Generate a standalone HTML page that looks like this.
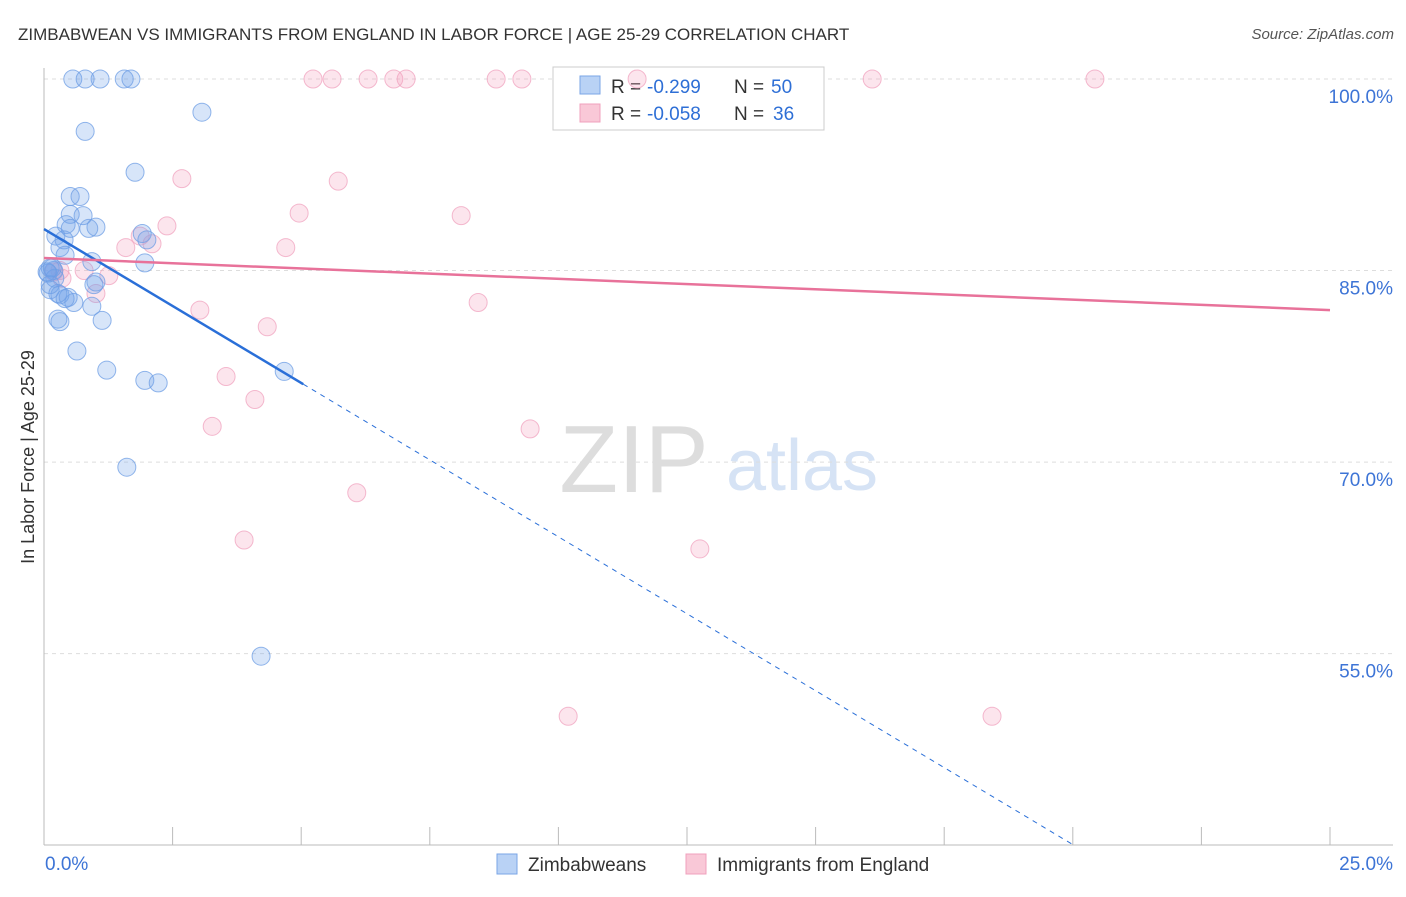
<!DOCTYPE html>
<html><head><meta charset="utf-8"><style>
body{margin:0;background:#fff;font-family:"Liberation Sans",sans-serif}
svg text{font-family:"Liberation Sans",sans-serif}
</style></head><body>
<svg id="c" width="1406" height="892">
<text x="18" y="40" font-size="17" fill="#333">ZIMBABWEAN VS IMMIGRANTS FROM ENGLAND IN LABOR FORCE | AGE 25-29 CORRELATION CHART</text>
<text x="1394" y="39" font-size="15" fill="#555" font-style="italic" text-anchor="end">Source: ZipAtlas.com</text>
<text transform="translate(34,457) rotate(-90)" font-size="18" fill="#333" text-anchor="middle">In Labor Force | Age 25-29</text>
<g><text x="634" y="492" font-size="96" fill="#ddd" text-anchor="middle" font-family="Liberation Serif">ZIP</text><text x="802" y="490" font-size="72" fill="#d6e3f5" text-anchor="middle">atlas</text></g>
<g id="grid"></g><g id="axes"></g>
<g>
<rect x="553" y="67" width="271" height="63" fill="#fff" stroke="#ccc"/>
<rect x="580" y="76" width="20" height="18" fill="#b9d2f5" stroke="#7aa5e6"/>
<rect x="580" y="104" width="20" height="18" fill="#f9c8d7" stroke="#f0a0bc"/>
<text x="611" y="93" font-size="19" fill="#333">R =</text><text x="647" y="93" font-size="19" fill="#2e6fd6">-0.299</text><text x="734" y="93" font-size="19" fill="#333">N =</text><text x="771" y="93" font-size="19" fill="#2e6fd6">50</text>
<text x="611" y="120" font-size="19" fill="#333">R =</text><text x="647" y="120" font-size="19" fill="#2e6fd6">-0.058</text><text x="734" y="120" font-size="19" fill="#333">N =</text><text x="773" y="120" font-size="19" fill="#2e6fd6">36</text>
</g>
<g id="marks"></g>
<g>
<rect x="497" y="854" width="20" height="20" fill="#b9d2f5" stroke="#7aa5e6"/><text x="528" y="871" font-size="19" fill="#333">Zimbabweans</text>
<rect x="686" y="854" width="20" height="20" fill="#f9c8d7" stroke="#f0a0bc"/><text x="717" y="871" font-size="19" fill="#333">Immigrants from England</text>
</g>
</svg>
<script>
const yTicks=[100,85,70,55];
const xTickLabels=["0.0%","25.0%"];
const blueX=[0.56,0.80,1.09,1.56,1.69,3.07,0.80,1.77,0.51,0.70,0.51,0.76,0.43,0.51,1.01,0.87,1.91,2.00,0.23,0.39,0.31,0.41,0.93,1.96,0.12,0.19,0.08,1.01,0.97,0.12,0.31,0.47,0.58,0.93,1.13,0.27,0.31,0.64,1.22,1.96,2.22,4.67,1.61,4.22,0.12,0.21,0.06,0.16,0.27,0.41];
const blueY=[100,100,100,100,100,97.4,95.9,92.7,90.8,90.8,89.4,89.3,88.6,88.3,88.4,88.3,87.9,87.4,87.7,87.4,86.8,86.2,85.7,85.6,85.2,85.0,84.8,84.1,83.9,83.5,83.1,82.9,82.5,82.2,81.1,81.2,81.0,78.7,77.2,76.4,76.2,77.1,69.6,54.8,83.9,84.4,84.9,85.2,83.2,82.8];
const pinkX=[5.23,5.60,6.30,6.80,7.04,8.79,9.29,11.53,16.10,20.43,2.68,5.72,4.96,8.11,2.39,1.87,2.10,1.59,4.70,1.26,0.78,0.31,0.19,0.35,1.01,8.44,3.03,4.34,3.54,4.10,3.27,9.45,6.08,3.89,12.75,10.19,18.43];
const pinkY=[100,100,100,100,100,100,100,100,100,100,92.2,92.0,89.5,89.3,88.5,87.7,87.1,86.8,86.8,84.6,85.0,85.0,84.9,84.4,83.2,82.5,81.9,80.6,76.7,74.9,72.8,72.6,67.6,63.9,63.2,50.1,50.1];
const blueTrend=[88.25,-2.41];
const blueSolidEnd=5.04;
const pinkTrend=[85.98,-0.163];
const X0=44,X1=1330,Y100=79,PX=12.77;
const xs=v=>X0+(X1-X0)*v/25;
const ys=v=>Y100+(100-v)*PX;
const NS="http://www.w3.org/2000/svg";
function mk(t,a,p){const e=document.createElementNS(NS,t);for(const k in a)e.setAttribute(k,a[k]);p.appendChild(e);return e;}
const grid=document.getElementById('grid'),axes=document.getElementById('axes'),marks=document.getElementById('marks');
yTicks.forEach(t=>{
 const l=mk('line',{x1:44,x2:1393,y1:ys(t),y2:ys(t),stroke:'#ddd','stroke-dasharray':'4,4'},grid);
 
 
 const tx=mk('text',{x:1393,y:ys(t)+24,'font-size':19,fill:'#3d74d6','text-anchor':'end'},axes);
 tx.textContent=t.toFixed(1)+'%';
 
 
});
const xa=mk('line',{x1:44,x2:1393,y1:845,y2:845,stroke:'#bbb'},axes);


const ya=mk('line',{x1:44,x2:44,y1:68,y2:845,stroke:'#bbb'},axes);


for(let i=0;i<=10;i++){const tk=mk('line',{x1:xs(i*2.5),x2:xs(i*2.5),y1:827,y2:845,stroke:'#bbb'},axes);
 
 }
xTickLabels.forEach((s,i)=>{const tx=mk('text',{x:i?1393:45,y:870,'font-size':19,fill:'#3d74d6','text-anchor':i?'end':'start'},axes);tx.textContent=s;
 
 });
function dots(X,Y,fill,stroke,name){X.forEach((x,i)=>{const c=mk('circle',{cx:xs(x),cy:ys(Y[i]),r:9,fill:fill,stroke:stroke,'stroke-width':1,'stroke-opacity':0.75},marks);
 
 });}
dots(pinkX,pinkY,'rgba(244,160,190,0.28)','#f0a3bf','england-point');
dots(blueX,blueY,'rgba(110,160,235,0.28)','#6d9de4','zimbabwean-point');
const bEnd=(40-blueTrend[0])/blueTrend[1];
const bs=mk('line',{x1:xs(0),y1:ys(blueTrend[0]),x2:xs(blueSolidEnd),y2:ys(blueTrend[0]+blueTrend[1]*blueSolidEnd),stroke:'#2a6fd8','stroke-width':2.5},marks);


const bd=mk('line',{x1:xs(blueSolidEnd),y1:ys(blueTrend[0]+blueTrend[1]*blueSolidEnd),x2:xs(bEnd),y2:ys(40),stroke:'#2a6fd8','stroke-width':1,'stroke-dasharray':'5,5'},marks);


const pl=mk('line',{x1:xs(0),y1:ys(pinkTrend[0]),x2:xs(25),y2:ys(pinkTrend[0]+pinkTrend[1]*25),stroke:'#e8729a','stroke-width':2.5},marks);


</script>
</body></html>
